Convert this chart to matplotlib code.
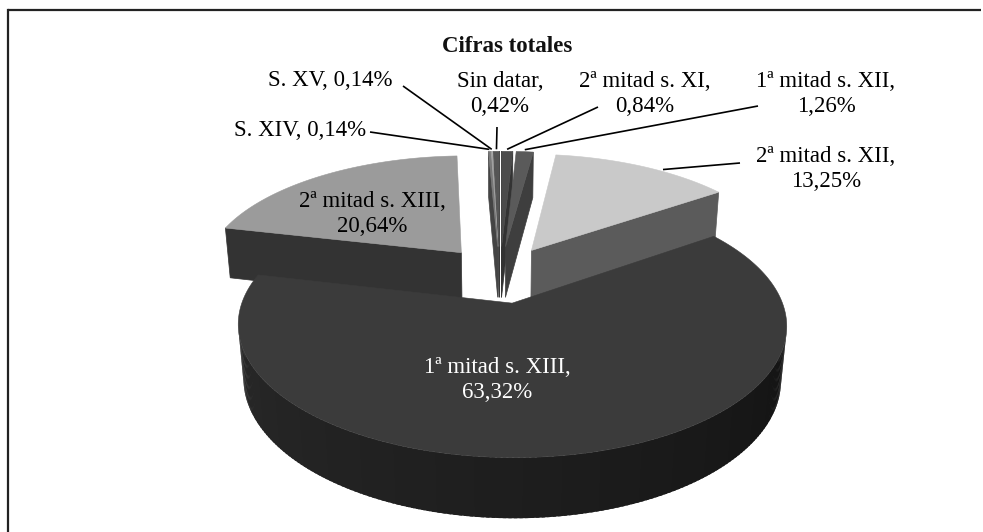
import numpy as np
import matplotlib
matplotlib.use("Agg")
import matplotlib.pyplot as plt
from matplotlib.patches import Polygon
from matplotlib.lines import Line2D

# ---------------- data ----------------
title = "Cifras totales"
categories = ["2ª mitad s. XI", "1ª mitad s. XII", "2ª mitad s. XII", "1ª mitad s. XIII",
              "2ª mitad s. XIII", "S. XIV", "S. XV", "Sin datar"]
values = [0.84, 1.26, 13.25, 63.32, 20.64, 0.14, 0.14, 0.42]
value_labels = ["0,84%", "1,26%", "13,25%", "63,32%", "20,64%", "0,14%", "0,14%", "0,42%"]

# ---------------- style ----------------
top_colors = ["#4b4b4b", "#5a5a5a", "#c9c9c9", "#3b3b3b", "#9b9b9b", "#7a7a7a", "#a0a0a0", "#555555"]
side_colors = ["#333333", "#3e3e3e", "#5b5b5b", "#202020", "#333333", "#444444", "#555555", "#383838"]
text_colors = ["black", "black", "black", "white", "black", "black", "black", "black"]
single_line = [False, False, False, False, False, True, True, False]
label_pos = [(645, 94), (826, 94), (826, 169), (497, 380), (372, 214), (300, 131), (330, 80), (500, 94)]
leader_start = [(598, 107), (758, 106), (740, 163), None, None, (370, 132), (403, 86), (497, 127)]
anchor_frac = [0.5, 0.5, 0.62, 0.5, 0.5, 0.5, 0.5, 0.5]

FONT = ["Liberation Serif", "DejaVu Serif"]
FS = 16.5

# camera / projection parameters (pixels)
W, H = 983, 532
cx, cy = 500.0, 274.0
elev = np.radians(27.2)
Dcam = 5.49
scale = 260.0
fpx = scale * Dcam
explode = 0.24
depth = 0.23
se, ce = np.sin(elev), np.cos(elev)
cam = np.array([0.0, -Dcam * ce, Dcam * se])


def proj(X, Y, Z):
    X = np.asarray(X, float)
    Y = np.asarray(Y, float)
    Z = np.asarray(Z, float)
    d = Dcam + Y * ce - Z * se
    v = Y * se + Z * ce
    return cx + fpx * X / d, cy - fpx * v / d


def poly(pts3):
    pts3 = np.asarray(pts3, float)
    x, y = proj(pts3[:, 0], pts3[:, 1], pts3[:, 2])
    return np.column_stack([x, y])


def visible(normal, point):
    return np.dot(normal, cam - np.asarray(point)) > 0


def rgb(hexc):
    hexc = hexc.lstrip("#")
    return np.array([int(hexc[i:i + 2], 16) for i in (0, 2, 4)]) / 255.0


fig = plt.figure(figsize=(W / 100, H / 100), dpi=100)
ax = fig.add_axes([0, 0, 1, 1])
ax.set_xlim(0, W)
ax.set_ylim(H, 0)
ax.axis("off")

# frame (only top & left edges fall inside the picture)
ax.add_line(Line2D([8, 8], [H, 10], color="#222222", lw=1.6, zorder=1,
                   solid_capstyle="projecting"))
ax.add_line(Line2D([8, W - 2], [10, 10], color="#222222", lw=1.6, zorder=1,
                   solid_capstyle="butt"))

vals = np.array(values, float)
cum = np.concatenate([[0], np.cumsum(vals)]) / vals.sum() * 2 * np.pi
slices = []
for i in range(len(vals)):
    t1, t2 = cum[i], cum[i + 1]
    tm = 0.5 * (t1 + t2)
    ox, oy = explode * np.sin(tm), explode * np.cos(tm)
    slices.append((i, t1, t2, tm, ox, oy))

# far slices first
order = sorted(slices, key=lambda s: -s[5])
z = 2
anchors = {}
for (i, t1, t2, tm, ox, oy) in order:
    faces = []
    apex = np.array([ox, oy, 0.0])
    apexb = np.array([ox, oy, -depth])

    def edge(t, zz, ox=ox, oy=oy):
        return np.array([ox + np.sin(t), oy + np.cos(t), zz])

    # radial faces
    n1 = np.array([-np.cos(t1), np.sin(t1), 0.0])
    if visible(n1, edge(t1, 0)):
        q = [apex, edge(t1, 0), edge(t1, -depth), apexb]
        faces.append((np.linalg.norm(np.mean(q, axis=0) - cam), q, rgb(side_colors[i]), True))
    n2 = np.array([np.cos(t2), -np.sin(t2), 0.0])
    if visible(n2, edge(t2, 0)):
        q = [apex, edge(t2, 0), edge(t2, -depth), apexb]
        faces.append((np.linalg.norm(np.mean(q, axis=0) - cam), q, rgb(side_colors[i]), True))
    # outer wall (fine segments, slightly overlapping to hide seams)
    nseg = max(2, int(np.degrees(t2 - t1) / 1.0))
    ts = np.linspace(t1, t2, nseg + 1)
    step = ts[1] - ts[0]
    for a, b in zip(ts[:-1], ts[1:]):
        tmid = 0.5 * (a + b)
        nn = np.array([np.sin(tmid), np.cos(tmid), 0.0])
        if visible(nn, edge(tmid, 0)):
            deg = np.clip(np.degrees(tmid), 90, 270)
            fac = 0.55 + 0.75 * (deg - 90) / 180
            col = np.clip(rgb(side_colors[i]) * fac, 0, 1)
            a2 = max(t1, a - 0.3 * step)
            b2 = min(t2, b + 0.3 * step)
            arc = np.linspace(a2, b2, 3)
            q = [edge(t, 0) for t in arc] + [edge(t, -depth) for t in arc[::-1]]
            faces.append((np.linalg.norm(np.mean(q, axis=0) - cam), q, col, False))
    faces.sort(key=lambda f: -f[0])
    for dist, q, col, stroke in faces:
        ax.add_patch(Polygon(poly(q), closed=True, facecolor=col,
                             edgecolor=col if stroke else "none",
                             lw=0.5 if stroke else 0, zorder=z))
        z += 1
    # top
    tt = np.linspace(t1, t2, max(3, int(np.degrees(t2 - t1)) + 2))
    top = [apex] + [edge(t, 0) for t in tt]
    ax.add_patch(Polygon(poly(top), closed=True, facecolor=top_colors[i],
                         edgecolor=top_colors[i], lw=0.4, zorder=z))
    z += 1
    ta = t1 + anchor_frac[i] * (t2 - t1)
    ax_, ay_ = proj(ox + np.sin(ta), oy + np.cos(ta), 0.0)
    anchors[i] = (float(ax_), float(ay_) - 2)

# labels and leader lines
for i, cat in enumerate(categories):
    sep = " " if single_line[i] else "\n"
    txt = f"{cat},{sep}{value_labels[i]}"
    x, y = label_pos[i]
    ax.text(x, y, txt, ha="center", va="center", family=FONT, fontsize=FS,
            color=text_colors[i], linespacing=1.31, zorder=200)
    if leader_start[i] is not None:
        sx, sy = leader_start[i]
        ex, ey = anchors[i]
        ax.plot([sx, ex], [sy, ey], color="black", lw=1.2, zorder=199,
                solid_capstyle="butt")

ax.text(507, 46, title, ha="center", va="center", family=FONT, fontsize=FS,
        fontweight="bold", color="#111111", zorder=200)

fig.savefig("out.png", dpi=100)
